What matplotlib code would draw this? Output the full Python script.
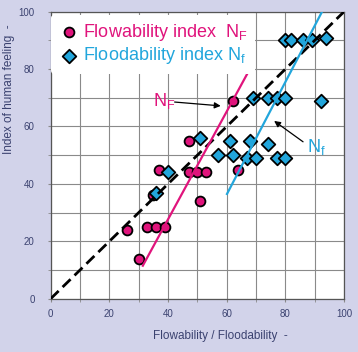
import matplotlib
matplotlib.use('Agg')
import matplotlib.pyplot as plt
from matplotlib.ticker import MultipleLocator

plt.rcParams['font.family'] = ['Liberation Sans', 'DejaVu Sans']
plt.rcParams['mathtext.fontset'] = 'custom'
plt.rcParams['mathtext.rm'] = 'Liberation Sans'
plt.rcParams['mathtext.it'] = 'Liberation Sans'

# Flowability index N_F (circles)
flow_x = [26, 30, 33, 36, 39, 35, 37, 47, 47, 50, 53, 51, 62, 64]
flow_y = [24, 14, 25, 25, 25, 36, 45, 55, 44, 44, 44, 34, 69, 45]

# Floodability index N_f (diamonds)
flood_x = [36, 40, 51, 57, 61, 62, 67, 68, 70, 74, 77, 80,
           69, 74, 77, 80, 92, 80, 82, 86, 89, 94]
flood_y = [37, 44, 56, 50, 55, 50, 49, 55, 49, 54, 49, 49,
           70, 70, 70, 70, 69, 90, 90, 90, 90, 91]

# fitted lines (end points) and the 1:1 line
fitF_x = [31.4, 67.4]
fitF_y = [11.5, 79.1]
fitf_x = [60.1, 92.5]
fitf_y = [36.5, 100]
diag = [0, 100]

pink = '#e0147c'
blue = '#22a6dc'
navy = '#3b4270'
bg = '#d2d3ea'

fig = plt.figure(figsize=(3.58, 3.52), dpi=100, facecolor=bg)
ax = fig.add_axes([0.1416, 0.1514, 0.8194, 0.8154])
ax.set_facecolor('white')

ax.plot(diag, diag, color='black', lw=2, linestyle=(0, (4, 2)), zorder=4)
ax.scatter(flow_x, flow_y, s=50, marker='o', color=pink, edgecolor='black',
           linewidth=1.3, zorder=3, label='Flowability index  N$_\\mathrm{F}$')
ax.scatter(flood_x, flood_y, s=48, marker='D', color=blue, edgecolor='black',
           linewidth=1.3, zorder=3, label='Floodability index N$_\\mathrm{f}$')
ax.plot(fitF_x, fitF_y, color=pink, lw=1.6, zorder=5)
ax.plot(fitf_x, fitf_y, color=blue, lw=1.6, zorder=5)

# annotations
ax.annotate('', xy=(58.9, 67.1), xytext=(41.3, 68.6),
            arrowprops=dict(arrowstyle='-|>', color='black', lw=0.9,
                            mutation_scale=9), zorder=6)
ax.text(35, 69, 'N$_\\mathrm{F}$', color=pink, fontsize=13,
        ha='left', va='center', zorder=6)
ax.annotate('', xy=(75.4, 62.5), xytext=(86.8, 54.1),
            arrowprops=dict(arrowstyle='-|>', color='black', lw=0.9,
                            mutation_scale=9), zorder=6)
ax.text(87.4, 53, 'N$_\\mathrm{f}$', color=blue, fontsize=13,
        ha='left', va='center', zorder=6)

ax.set_xlim(0, 100)
ax.set_ylim(0, 100)
ax.xaxis.set_major_locator(MultipleLocator(20))
ax.yaxis.set_major_locator(MultipleLocator(20))
ax.xaxis.set_minor_locator(MultipleLocator(10))
ax.yaxis.set_minor_locator(MultipleLocator(10))
ax.grid(True, which='both', color='#8a8a8a', lw=0.8, zorder=0)
ax.set_axisbelow(True)
ax.tick_params(axis='both', which='both', labelsize=7, labelcolor=navy,
               color='#8a8a8a', length=2.5)
ax.tick_params(axis='x', pad=5)
ax.tick_params(axis='y', pad=9)
for s in ax.spines.values():
    s.set_color('#555555')
    s.set_linewidth(0.9)

ax.set_xlabel('Flowability / Floodability  -', fontsize=8.5, color=navy)
ax.xaxis.set_label_coords(0.58, -0.11)
ax.set_ylabel('Index of human feeling  -', fontsize=8.5, color=navy)
ax.yaxis.set_label_coords(-0.12, 0.73)

leg = ax.legend(loc='upper left', bbox_to_anchor=(0.0, 0.99), fontsize=13,
                frameon=True, facecolor='white', edgecolor='none',
                framealpha=1, borderaxespad=0, handletextpad=0.2,
                labelspacing=0.15, borderpad=0.4, handlelength=1.2,
                labelcolor=[pink, blue])
leg.set_zorder(7)

fig.savefig('out.png', dpi=100, facecolor=bg)
